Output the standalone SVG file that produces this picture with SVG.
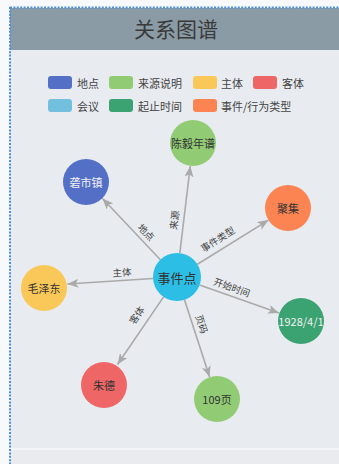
<svg xmlns="http://www.w3.org/2000/svg" width="339" height="464" viewBox="0 0 339 464">
<style>
text{font-family:"Noto Sans CJK SC","Noto Sans",sans-serif}
.title{font-size:21px;fill:#3a3a3a}
.lg{font-size:11px;fill:#444;dominant-baseline:central}
.nl{font-size:11px;fill:#333;text-anchor:middle;dominant-baseline:central}
.wl{fill:#f2f2f2}
.el{font-size:9.5px;fill:#444;text-anchor:middle;dominant-baseline:central}
.edge{stroke:#aaa;stroke-width:1.6;fill:none;marker-end:url(#arr)}
</style>
<defs>
<marker id="arr" viewBox="0 0 11 9" refX="11" refY="4.5" markerWidth="11" markerHeight="9" markerUnits="userSpaceOnUse" orient="auto">
<path d="M0,0 L11,4.5 L0,9 L2.8,4.5 Z" fill="#aaa"/>
</marker>
</defs>
<rect x="0" y="0" width="339" height="464" fill="#f8f9fa"/>
<rect x="10" y="8" width="329" height="456" fill="#e8ebef"/>
<rect x="10" y="8" width="329" height="42" fill="#8a9ba5"/>
<rect x="10" y="448" width="329" height="2" fill="#f4f5f7"/>
<rect x="10" y="450" width="329" height="14" fill="#e9ebee"/>
<line x1="10" y1="7.5" x2="339" y2="7.5" stroke="#4a90e2" stroke-width="2" stroke-dasharray="2 1.4"/>
<line x1="10" y1="7" x2="10" y2="464" stroke="#4a90e2" stroke-width="2" stroke-dasharray="2 1.4"/>
<text class="title" x="176" y="37" text-anchor="middle">关系图谱</text>
<g id="legend">
<rect x="48" y="76" width="24" height="13" rx="3" fill="#5470c6"/><text class="lg" x="77" y="83">地点</text>
<rect x="109" y="76" width="24" height="13" rx="3" fill="#91cc75"/><text class="lg" x="138" y="83">来源说明</text>
<rect x="193" y="76" width="24" height="13" rx="3" fill="#fac858"/><text class="lg" x="221" y="83">主体</text>
<rect x="253" y="76" width="24" height="13" rx="3" fill="#ee6666"/><text class="lg" x="282" y="83">客体</text>
<rect x="48" y="99" width="24" height="13" rx="3" fill="#73c0de"/><text class="lg" x="77" y="106">会议</text>
<rect x="109" y="99" width="24" height="13" rx="3" fill="#3ba272"/><text class="lg" x="138" y="106">起止时间</text>
<rect x="193" y="99" width="24" height="13" rx="3" fill="#fc8452"/><text class="lg" x="221" y="106">事件/行为类型</text>
</g>
<g id="edges">
<line class="edge" x1="179.8" y1="253.2" x2="190.3" y2="166"/>
<text class="el" transform="translate(174,220) rotate(-83)">来源</text>
<line class="edge" x1="160.4" y1="259.7" x2="102.5" y2="198.5"/>
<text class="el" transform="translate(146.5,232) rotate(46)">地点</text>
<line class="edge" x1="153.1" y1="278.5" x2="67.5" y2="284"/>
<text class="el" transform="translate(122,272) rotate(-4)">主体</text>
<line class="edge" x1="197.4" y1="264.3" x2="268.5" y2="220.1"/>
<text class="el" transform="translate(217.5,239) rotate(-32)">事件类型</text>
<line class="edge" x1="199.6" y1="285" x2="279" y2="313"/>
<text class="el" transform="translate(232,287) rotate(19.5)">开始时间</text>
<line class="edge" x1="184.5" y1="299.8" x2="209.6" y2="377"/>
<text class="el" transform="translate(202,324) rotate(72)">页码</text>
<line class="edge" x1="163.6" y1="296.9" x2="117.5" y2="364.5"/>
<text class="el" transform="translate(136.5,315) rotate(-56)">客体</text>
</g>
<g id="node-event"><circle cx="177" cy="277" r="24" fill="#2dbee6"/><text class="nl" x="177" y="277" style="font-size:13px">事件点</text></g>
<g id="node-source"><circle cx="193" cy="143" r="23" fill="#91cc75"/><text class="nl" x="193" y="143">陈毅年谱</text></g>
<g id="node-place"><circle cx="86" cy="182" r="23" fill="#5470c6"/><text class="nl wl" x="86" y="182">砻市镇</text></g>
<g id="node-type"><circle cx="288" cy="208" r="23" fill="#fc8452"/><text class="nl" x="288" y="208">聚集</text></g>
<g id="node-subject"><circle cx="44" cy="288" r="23" fill="#fac858"/><text class="nl" x="44" y="288">毛泽东</text></g>
<g id="node-time"><circle cx="301" cy="321" r="23" fill="#3ba272"/><text class="nl wl" x="301" y="321">1928/4/1</text></g>
<g id="node-object"><circle cx="104" cy="385" r="23" fill="#ee6666"/><text class="nl" x="104" y="385">朱德</text></g>
<g id="node-page"><circle cx="217" cy="399" r="23" fill="#91cc75"/><text class="nl" x="217" y="399">109页</text></g>
</svg>
